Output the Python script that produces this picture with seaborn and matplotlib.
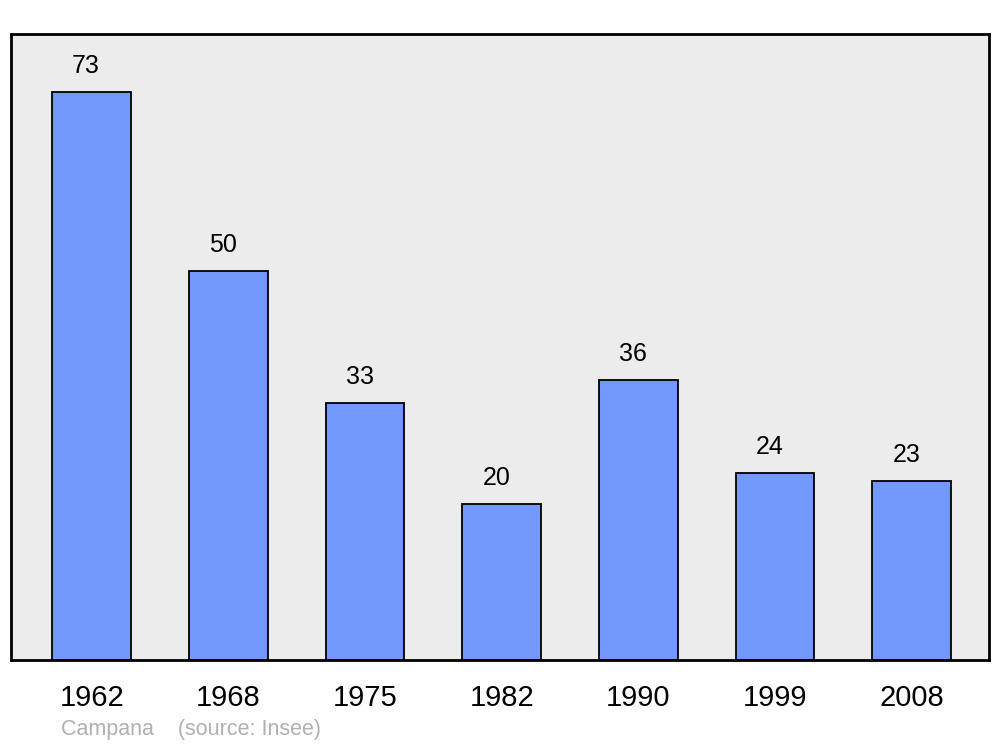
"""
Population chart: Campana (source: Insee).
"""
import matplotlib
matplotlib.use('Agg')
import matplotlib.pyplot as plt
import seaborn as sns
import pandas as pd

# Data
YEARS = ["1962", "1968", "1975", "1982", "1990", "1999", "2008"]
POPULATION = [73, 50, 33, 20, 36, 24, 23]

sns.set_style("white")
plt.rcParams['font.family'] = ['Liberation Sans', 'DejaVu Sans']
plt.rcParams['text.color'] = 'black'
plt.rcParams['xtick.color'] = 'black'

df = pd.DataFrame({"year": YEARS, "pop": POPULATION})

fig = plt.figure(figsize=(10, 7.47), dpi=100)
ax = fig.add_axes([0.011, 1 - 660 / 747, 0.978, (660 - 34) / 747])
ax.set_facecolor('#ececec')

sns.barplot(data=df, x="year", y="pop", color='#7399ff', saturation=1,
            width=0.575, edgecolor='black', linewidth=1.3, ax=ax)

for i, v in enumerate(POPULATION):
    ax.text(i - 0.04, v + 3.4, str(v), ha='center', va='center',
            fontsize=18, color='black')

ax.set_xlim(-0.59, 6.565)
ax.set_ylim(0, 80.5)
ax.set_xlabel("")
ax.set_ylabel("")
ax.set_yticks([])
ax.tick_params(axis='x', length=0, labelsize=21, pad=17, labelcolor='black')
for s in ax.spines.values():
    s.set_visible(True)
    s.set_color('black')
    s.set_linewidth(2)

fig.text(0.061, 1 - 730 / 747, "Campana    (source: Insee)", color='#b0b0b0',
         fontsize=15.5, va='center', ha='left')

fig.savefig("out.png", dpi=100)
plt.close()
